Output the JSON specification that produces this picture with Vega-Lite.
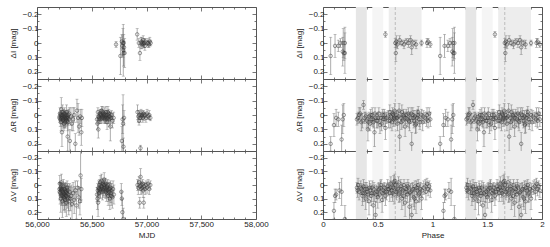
{
"$schema": "https://vega.github.io/schema/vega-lite/v6.json",
"padding": {"left": 8, "top": 6, "right": 2, "bottom": 2},
"config": {
 "font": "Liberation Sans",
 "view": {"stroke": "#555", "strokeWidth": 1},
 "axis": {"grid": false, "domain": false, "tickColor": "#555", "tickWidth": 0.8, "tickSize": -4, "labelFontSize": 8, "labelColor": "#222", "titleFontSize": 8, "titleFontWeight": "normal", "titleColor": "#222", "labelOverlap": false, "labelFlush": false, "labelPadding": 3},
 "axisBottom": {"labelPadding": 5}
},
"datasets": {
 "L": [
  {"b":"I","t":56722,"m":0.01,"e":0.02},{"b":"I","t":56762,"m":0.09,"e":0.13},{"b":"I","t":56775,"m":-0.01,"e":0.05},{"b":"I","t":56780,"m":0.02,"e":0.07},{"b":"I","t":56785,"m":0.0,"e":0.1},{"b":"I","t":56788,"m":0.05,"e":0.18},{"b":"I","t":56790,"m":0.07,"e":0.09},{"b":"I","t":56792,"m":0.0,"e":0.06},{"b":"I","t":56795,"m":0.03,"e":0.04},{"b":"I","t":56800,"m":0.07,"e":0.1},
  {"b":"I","t":56915,"m":-0.06,"e":0.04},{"b":"I","t":56930,"m":0.0,"e":0.03},{"b":"I","t":56940,"m":0.07,"e":0.05},{"b":"I","t":56950,"m":0.0,"e":0.04},{"b":"I","t":56955,"m":-0.01,"e":0.03},{"b":"I","t":56960,"m":0.01,"e":0.03},{"b":"I","t":56965,"m":0.0,"e":0.02},{"b":"I","t":56970,"m":-0.02,"e":0.03},{"b":"I","t":56975,"m":0.01,"e":0.02},{"b":"I","t":56980,"m":0.0,"e":0.03},{"b":"I","t":56985,"m":0.02,"e":0.03},{"b":"I","t":56990,"m":-0.01,"e":0.02},{"b":"I","t":57010,"m":0.0,"e":0.02},{"b":"I","t":57015,"m":0.0,"e":0.03},{"b":"I","t":57022,"m":0.01,"e":0.02},{"b":"I","t":57030,"m":-0.01,"e":0.03},{"b":"I","t":57038,"m":0.0,"e":0.02},
  {"b":"R","t":56205,"m":0.02,"e":0.03},{"b":"R","t":56210,"m":-0.01,"e":0.04},{"b":"R","t":56213,"m":0.03,"e":0.05},{"b":"R","t":56216,"m":0.0,"e":0.03},{"b":"R","t":56219,"m":0.05,"e":0.06},{"b":"R","t":56222,"m":-0.04,"e":0.08},{"b":"R","t":56225,"m":0.01,"e":0.03},{"b":"R","t":56228,"m":0.12,"e":0.1},{"b":"R","t":56231,"m":0.02,"e":0.04},{"b":"R","t":56234,"m":-0.02,"e":0.05},{"b":"R","t":56237,"m":0.04,"e":0.04},{"b":"R","t":56240,"m":0.0,"e":0.03},{"b":"R","t":56243,"m":0.03,"e":0.06},{"b":"R","t":56246,"m":0.06,"e":0.05},{"b":"R","t":56249,"m":0.01,"e":0.03},{"b":"R","t":56252,"m":-0.01,"e":0.04},{"b":"R","t":56255,"m":0.02,"e":0.05},{"b":"R","t":56258,"m":0.05,"e":0.04},{"b":"R","t":56261,"m":0.0,"e":0.03},{"b":"R","t":56264,"m":0.03,"e":0.05},{"b":"R","t":56267,"m":0.02,"e":0.04},{"b":"R","t":56270,"m":-0.02,"e":0.05},{"b":"R","t":56273,"m":0.04,"e":0.03},{"b":"R","t":56276,"m":0.01,"e":0.04},{"b":"R","t":56280,"m":0.15,"e":0.1},{"b":"R","t":56284,"m":0.02,"e":0.05},{"b":"R","t":56288,"m":0.0,"e":0.04},{"b":"R","t":56292,"m":0.03,"e":0.03},{"b":"R","t":56300,"m":0.18,"e":0.08},{"b":"R","t":56310,"m":0.01,"e":0.06},{"b":"R","t":56318,"m":0.06,"e":0.05},{"b":"R","t":56330,"m":0.03,"e":0.08},{"b":"R","t":56340,"m":0.0,"e":0.05},{"b":"R","t":56350,"m":0.2,"e":0.07},{"b":"R","t":56365,"m":-0.03,"e":0.08},{"b":"R","t":56375,"m":0.02,"e":0.1},{"b":"R","t":56385,"m":0.08,"e":0.06},{"b":"R","t":56395,"m":0.01,"e":0.05},{"b":"R","t":56405,"m":0.12,"e":0.09},{"b":"R","t":56410,"m":0.02,"e":0.06},
  {"b":"R","t":56207,"m":0.01,"e":0.03},{"b":"R","t":56218,"m":0.02,"e":0.04},{"b":"R","t":56227,"m":0.0,"e":0.03},{"b":"R","t":56236,"m":0.03,"e":0.04},{"b":"R","t":56245,"m":-0.01,"e":0.03},{"b":"R","t":56254,"m":0.04,"e":0.05},{"b":"R","t":56263,"m":0.01,"e":0.03},{"b":"R","t":56272,"m":0.02,"e":0.04},{"b":"R","t":56282,"m":0.05,"e":0.06},{"b":"R","t":56295,"m":-0.01,"e":0.04},
  {"b":"R","t":56548,"m":0.03,"e":0.03},{"b":"R","t":56552,"m":0.06,"e":0.04},{"b":"R","t":56556,"m":-0.02,"e":0.03},{"b":"R","t":56560,"m":0.1,"e":0.06},{"b":"R","t":56565,"m":0.01,"e":0.03},{"b":"R","t":56570,"m":0.02,"e":0.04},{"b":"R","t":56575,"m":-0.01,"e":0.03},{"b":"R","t":56580,"m":0.03,"e":0.03},{"b":"R","t":56585,"m":0.0,"e":0.04},{"b":"R","t":56590,"m":-0.03,"e":0.03},{"b":"R","t":56595,"m":0.01,"e":0.03},{"b":"R","t":56600,"m":-0.02,"e":0.04},{"b":"R","t":56605,"m":0.02,"e":0.03},{"b":"R","t":56610,"m":0.0,"e":0.03},{"b":"R","t":56615,"m":-0.01,"e":0.04},{"b":"R","t":56620,"m":0.03,"e":0.03},{"b":"R","t":56625,"m":0.01,"e":0.03},{"b":"R","t":56630,"m":-0.02,"e":0.04},{"b":"R","t":56635,"m":0.02,"e":0.03},{"b":"R","t":56640,"m":0.05,"e":0.05},{"b":"R","t":56645,"m":0.0,"e":0.03},{"b":"R","t":56650,"m":0.02,"e":0.04},{"b":"R","t":56655,"m":-0.01,"e":0.03},{"b":"R","t":56660,"m":0.03,"e":0.05},{"b":"R","t":56665,"m":0.01,"e":0.03},{"b":"R","t":56670,"m":0.08,"e":0.1},{"b":"R","t":56675,"m":0.02,"e":0.04},{"b":"R","t":56680,"m":0.0,"e":0.03},{"b":"R","t":56690,"m":0.04,"e":0.05},{"b":"R","t":56700,"m":0.02,"e":0.04},{"b":"R","t":56775,"m":0.18,"e":0.1},{"b":"R","t":56782,"m":0.03,"e":0.1},{"b":"R","t":56786,"m":0.06,"e":0.2},{"b":"R","t":56790,"m":0.22,"e":0.06},{"b":"R","t":56795,"m":0.02,"e":0.05},
  {"b":"R","t":56567,"m":0.03,"e":0.03},{"b":"R","t":56577,"m":0.0,"e":0.03},{"b":"R","t":56588,"m":0.02,"e":0.04},{"b":"R","t":56597,"m":-0.01,"e":0.03},{"b":"R","t":56608,"m":0.01,"e":0.03},{"b":"R","t":56618,"m":0.02,"e":0.04},{"b":"R","t":56628,"m":0.0,"e":0.03},{"b":"R","t":56638,"m":0.03,"e":0.03},{"b":"R","t":56648,"m":-0.02,"e":0.04},{"b":"R","t":56658,"m":0.01,"e":0.03},
  {"b":"R","t":56918,"m":-0.02,"e":0.05},{"b":"R","t":56925,"m":0.01,"e":0.04},{"b":"R","t":56932,"m":0.04,"e":0.03},{"b":"R","t":56938,"m":0.0,"e":0.03},{"b":"R","t":56942,"m":0.02,"e":0.03},{"b":"R","t":56945,"m":0.23,"e":0.02},{"b":"R","t":56950,"m":-0.01,"e":0.03},{"b":"R","t":56955,"m":0.01,"e":0.02},{"b":"R","t":56960,"m":0.0,"e":0.03},{"b":"R","t":56966,"m":0.02,"e":0.03},{"b":"R","t":56972,"m":-0.01,"e":0.02},{"b":"R","t":56978,"m":0.01,"e":0.03},{"b":"R","t":56985,"m":0.0,"e":0.02},{"b":"R","t":56995,"m":0.02,"e":0.03},{"b":"R","t":57005,"m":-0.01,"e":0.03},{"b":"R","t":57015,"m":0.01,"e":0.02},{"b":"R","t":57025,"m":0.0,"e":0.03},{"b":"R","t":57035,"m":0.02,"e":0.02},
  {"b":"V","t":56205,"m":0.03,"e":0.05},{"b":"V","t":56208,"m":-0.01,"e":0.06},{"b":"V","t":56211,"m":0.06,"e":0.08},{"b":"V","t":56214,"m":0.02,"e":0.04},{"b":"V","t":56217,"m":0.1,"e":0.1},{"b":"V","t":56220,"m":0.04,"e":0.05},{"b":"V","t":56223,"m":-0.02,"e":0.06},{"b":"V","t":56226,"m":0.07,"e":0.07},{"b":"V","t":56229,"m":0.03,"e":0.05},{"b":"V","t":56232,"m":0.12,"e":0.12},{"b":"V","t":56235,"m":0.05,"e":0.05},{"b":"V","t":56238,"m":0.08,"e":0.07},{"b":"V","t":56241,"m":0.01,"e":0.05},{"b":"V","t":56244,"m":0.06,"e":0.06},{"b":"V","t":56247,"m":0.09,"e":0.1},{"b":"V","t":56250,"m":0.03,"e":0.04},{"b":"V","t":56253,"m":0.07,"e":0.08},{"b":"V","t":56256,"m":0.11,"e":0.09},{"b":"V","t":56259,"m":0.04,"e":0.06},{"b":"V","t":56262,"m":0.08,"e":0.07},{"b":"V","t":56265,"m":0.05,"e":0.05},{"b":"V","t":56268,"m":0.13,"e":0.1},{"b":"V","t":56271,"m":0.06,"e":0.06},{"b":"V","t":56275,"m":0.02,"e":0.05},{"b":"V","t":56280,"m":0.09,"e":0.08},{"b":"V","t":56285,"m":0.07,"e":0.07},{"b":"V","t":56290,"m":0.12,"e":0.1},{"b":"V","t":56298,"m":0.05,"e":0.06},{"b":"V","t":56305,"m":0.1,"e":0.09},{"b":"V","t":56312,"m":0.08,"e":0.08},{"b":"V","t":56320,"m":0.14,"e":0.12},{"b":"V","t":56330,"m":0.06,"e":0.08},{"b":"V","t":56340,"m":0.11,"e":0.1},{"b":"V","t":56350,"m":0.04,"e":0.07},{"b":"V","t":56360,"m":0.15,"e":0.1},{"b":"V","t":56370,"m":0.02,"e":0.05},{"b":"V","t":56380,"m":0.09,"e":0.08},{"b":"V","t":56392,"m":0.12,"e":0.1},{"b":"V","t":56398,"m":-0.07,"e":0.2},{"b":"V","t":56405,"m":0.03,"e":0.08},
  {"b":"V","t":56207,"m":0.05,"e":0.06},{"b":"V","t":56216,"m":0.03,"e":0.05},{"b":"V","t":56224,"m":0.08,"e":0.07},{"b":"V","t":56233,"m":0.04,"e":0.05},{"b":"V","t":56242,"m":0.07,"e":0.06},{"b":"V","t":56251,"m":0.1,"e":0.08},{"b":"V","t":56260,"m":0.05,"e":0.06},{"b":"V","t":56269,"m":0.08,"e":0.07},{"b":"V","t":56278,"m":0.04,"e":0.05},{"b":"V","t":56288,"m":0.1,"e":0.09},
  {"b":"V","t":56548,"m":0.07,"e":0.05},{"b":"V","t":56552,"m":0.1,"e":0.08},{"b":"V","t":56555,"m":0.04,"e":0.05},{"b":"V","t":56558,"m":0.13,"e":0.1},{"b":"V","t":56562,"m":0.02,"e":0.05},{"b":"V","t":56566,"m":0.06,"e":0.06},{"b":"V","t":56570,"m":0.0,"e":0.04},{"b":"V","t":56574,"m":0.04,"e":0.05},{"b":"V","t":56578,"m":-0.02,"e":0.05},{"b":"V","t":56582,"m":0.03,"e":0.04},{"b":"V","t":56586,"m":0.01,"e":0.04},{"b":"V","t":56590,"m":-0.03,"e":0.05},{"b":"V","t":56594,"m":0.02,"e":0.04},{"b":"V","t":56598,"m":0.05,"e":0.06},{"b":"V","t":56602,"m":-0.01,"e":0.04},{"b":"V","t":56606,"m":0.03,"e":0.05},{"b":"V","t":56610,"m":0.0,"e":0.04},{"b":"V","t":56614,"m":-0.04,"e":0.05},{"b":"V","t":56618,"m":0.02,"e":0.04},{"b":"V","t":56622,"m":0.04,"e":0.05},{"b":"V","t":56626,"m":-0.01,"e":0.04},{"b":"V","t":56630,"m":0.03,"e":0.05},{"b":"V","t":56634,"m":0.06,"e":0.06},{"b":"V","t":56638,"m":0.01,"e":0.04},{"b":"V","t":56642,"m":0.04,"e":0.05},{"b":"V","t":56646,"m":0.0,"e":0.04},{"b":"V","t":56650,"m":0.08,"e":0.07},{"b":"V","t":56655,"m":0.03,"e":0.05},{"b":"V","t":56660,"m":0.05,"e":0.06},{"b":"V","t":56665,"m":0.1,"e":0.08},{"b":"V","t":56670,"m":0.02,"e":0.05},{"b":"V","t":56675,"m":0.06,"e":0.07},{"b":"V","t":56680,"m":0.04,"e":0.05},{"b":"V","t":56688,"m":0.09,"e":0.08},{"b":"V","t":56695,"m":0.03,"e":0.06},{"b":"V","t":56702,"m":0.07,"e":0.07},{"b":"V","t":56770,"m":0.05,"e":0.06},{"b":"V","t":56775,"m":0.1,"e":0.05},{"b":"V","t":56780,"m":0.2,"e":0.1},{"b":"V","t":56788,"m":0.25,"e":0.08},
  {"b":"V","t":56568,"m":0.03,"e":0.05},{"b":"V","t":56580,"m":0.05,"e":0.05},{"b":"V","t":56592,"m":0.01,"e":0.04},{"b":"V","t":56604,"m":0.04,"e":0.05},{"b":"V","t":56616,"m":0.0,"e":0.04},{"b":"V","t":56628,"m":0.05,"e":0.05},{"b":"V","t":56640,"m":0.02,"e":0.04},{"b":"V","t":56652,"m":0.06,"e":0.06},{"b":"V","t":56664,"m":0.03,"e":0.05},{"b":"V","t":56678,"m":0.08,"e":0.07},
  {"b":"V","t":56918,"m":0.0,"e":0.04},{"b":"V","t":56925,"m":0.02,"e":0.05},{"b":"V","t":56932,"m":-0.02,"e":0.04},{"b":"V","t":56938,"m":0.13,"e":0.04},{"b":"V","t":56942,"m":0.01,"e":0.03},{"b":"V","t":56946,"m":-0.06,"e":0.06},{"b":"V","t":56950,"m":0.03,"e":0.04},{"b":"V","t":56955,"m":0.0,"e":0.03},{"b":"V","t":56960,"m":0.02,"e":0.04},{"b":"V","t":56965,"m":-0.01,"e":0.03},{"b":"V","t":56970,"m":0.04,"e":0.05},{"b":"V","t":56975,"m":0.13,"e":0.04},{"b":"V","t":56980,"m":0.01,"e":0.03},{"b":"V","t":56988,"m":0.03,"e":0.04},{"b":"V","t":56996,"m":0.0,"e":0.03},{"b":"V","t":57005,"m":0.02,"e":0.04},{"b":"V","t":57015,"m":-0.01,"e":0.03},{"b":"V","t":57025,"m":0.03,"e":0.04},{"b":"V","t":57035,"m":0.0,"e":0.03}
 ],
 "P": [
  {"b":"I","p":0.07,"q":1.07,"m":0.09,"e":0.13},{"b":"I","p":0.11,"q":1.11,"m":0.02,"e":0.08},{"b":"I","p":0.14,"q":1.14,"m":0.02,"e":0.04},{"b":"I","p":0.16,"q":1.16,"m":0.0,"e":0.03},{"b":"I","p":0.18,"q":1.18,"m":0.06,"e":0.1},{"b":"I","p":0.185,"q":1.185,"m":0.0,"e":0.1},{"b":"I","p":0.19,"q":1.19,"m":0.07,"e":0.05},{"b":"I","p":0.2,"q":1.2,"m":0.07,"e":0.14},{"b":"I","p":0.2,"q":1.2,"m":0.0,"e":0.11},{"b":"I","p":0.57,"q":1.57,"m":-0.06,"e":0.02},{"b":"I","p":0.66,"q":1.66,"m":0.0,"e":0.03},{"b":"I","p":0.665,"q":1.665,"m":0.07,"e":0.06},{"b":"I","p":0.67,"q":1.67,"m":-0.01,"e":0.04},{"b":"I","p":0.68,"q":1.68,"m":0.01,"e":0.03},{"b":"I","p":0.7,"q":1.7,"m":-0.02,"e":0.03},{"b":"I","p":0.72,"q":1.72,"m":0.0,"e":0.02},{"b":"I","p":0.74,"q":1.74,"m":0.01,"e":0.03},{"b":"I","p":0.76,"q":1.76,"m":-0.01,"e":0.02},{"b":"I","p":0.78,"q":1.78,"m":0.0,"e":0.03},{"b":"I","p":0.8,"q":1.8,"m":-0.02,"e":0.03},{"b":"I","p":0.81,"q":1.81,"m":0.03,"e":0.05},{"b":"I","p":0.83,"q":1.83,"m":0.0,"e":0.02},{"b":"I","p":0.85,"q":1.85,"m":0.01,"e":0.03},{"b":"I","p":0.9,"q":1.9,"m":0.0,"e":0.02},{"b":"I","p":0.95,"q":1.95,"m":0.0,"e":0.03},{"b":"I","p":0.96,"q":1.96,"m":-0.01,"e":0.02},{"b":"I","p":0.98,"q":1.98,"m":0.01,"e":0.02},
  {"b":"R","p":0.07,"q":1.07,"m":0.2,"e":0.05},{"b":"R","p":0.1,"q":1.1,"m":0.07,"e":0.08},{"b":"R","p":0.12,"q":1.12,"m":0.02,"e":0.06},{"b":"R","p":0.14,"q":1.14,"m":0.03,"e":0.05},{"b":"R","p":0.17,"q":1.17,"m":0.17,"e":0.1},{"b":"R","p":0.18,"q":1.18,"m":0.03,"e":0.1},{"b":"R","p":0.19,"q":1.19,"m":0.0,"e":0.08},
  {"b":"R","p":0.31,"q":1.31,"m":0.03,"e":0.04},{"b":"R","p":0.33,"q":1.33,"m":0.0,"e":0.05},{"b":"R","p":0.35,"q":1.35,"m":0.05,"e":0.06},{"b":"R","p":0.37,"q":1.37,"m":-0.07,"e":0.03},{"b":"R","p":0.38,"q":1.38,"m":0.02,"e":0.04},{"b":"R","p":0.4,"q":1.4,"m":0.04,"e":0.05},{"b":"R","p":0.41,"q":1.41,"m":0.1,"e":0.08},{"b":"R","p":0.42,"q":1.42,"m":0.01,"e":0.03},{"b":"R","p":0.43,"q":1.43,"m":0.06,"e":0.05},{"b":"R","p":0.44,"q":1.44,"m":0.03,"e":0.04},{"b":"R","p":0.45,"q":1.45,"m":0.0,"e":0.05},{"b":"R","p":0.46,"q":1.46,"m":0.05,"e":0.04},{"b":"R","p":0.47,"q":1.47,"m":0.12,"e":0.1},{"b":"R","p":0.48,"q":1.48,"m":0.02,"e":0.03},{"b":"R","p":0.5,"q":1.5,"m":0.04,"e":0.05},{"b":"R","p":0.51,"q":1.51,"m":-0.01,"e":0.04},{"b":"R","p":0.52,"q":1.52,"m":0.07,"e":0.06},{"b":"R","p":0.53,"q":1.53,"m":0.02,"e":0.04},{"b":"R","p":0.55,"q":1.55,"m":0.03,"e":0.05},{"b":"R","p":0.56,"q":1.56,"m":0.0,"e":0.04},{"b":"R","p":0.57,"q":1.57,"m":0.09,"e":0.08},{"b":"R","p":0.58,"q":1.58,"m":0.02,"e":0.04},{"b":"R","p":0.6,"q":1.6,"m":0.04,"e":0.05},{"b":"R","p":0.61,"q":1.61,"m":-0.02,"e":0.05},{"b":"R","p":0.62,"q":1.62,"m":0.01,"e":0.04},{"b":"R","p":0.63,"q":1.63,"m":0.05,"e":0.06},{"b":"R","p":0.64,"q":1.64,"m":0.0,"e":0.03},{"b":"R","p":0.65,"q":1.65,"m":0.02,"e":0.04},{"b":"R","p":0.655,"q":1.655,"m":-0.03,"e":0.05},{"b":"R","p":0.66,"q":1.66,"m":0.03,"e":0.04},{"b":"R","p":0.67,"q":1.67,"m":0.0,"e":0.03},{"b":"R","p":0.68,"q":1.68,"m":0.06,"e":0.05},{"b":"R","p":0.69,"q":1.69,"m":0.01,"e":0.04},{"b":"R","p":0.7,"q":1.7,"m":0.15,"e":0.1},{"b":"R","p":0.71,"q":1.71,"m":0.02,"e":0.04},{"b":"R","p":0.72,"q":1.72,"m":-0.02,"e":0.05},{"b":"R","p":0.73,"q":1.73,"m":0.04,"e":0.05},{"b":"R","p":0.74,"q":1.74,"m":0.01,"e":0.03},{"b":"R","p":0.75,"q":1.75,"m":0.08,"e":0.07},{"b":"R","p":0.76,"q":1.76,"m":0.0,"e":0.04},{"b":"R","p":0.77,"q":1.77,"m":0.03,"e":0.05},{"b":"R","p":0.78,"q":1.78,"m":-0.01,"e":0.04},{"b":"R","p":0.79,"q":1.79,"m":0.05,"e":0.06},{"b":"R","p":0.8,"q":1.8,"m":0.02,"e":0.04},{"b":"R","p":0.81,"q":1.81,"m":0.2,"e":0.08},{"b":"R","p":0.82,"q":1.82,"m":0.0,"e":0.05},{"b":"R","p":0.83,"q":1.83,"m":0.04,"e":0.05},{"b":"R","p":0.84,"q":1.84,"m":0.01,"e":0.04},{"b":"R","p":0.85,"q":1.85,"m":0.06,"e":0.06},{"b":"R","p":0.86,"q":1.86,"m":0.02,"e":0.05},{"b":"R","p":0.87,"q":1.87,"m":-0.02,"e":0.04},{"b":"R","p":0.88,"q":1.88,"m":0.03,"e":0.05},{"b":"R","p":0.9,"q":1.9,"m":0.0,"e":0.04},{"b":"R","p":0.91,"q":1.91,"m":0.05,"e":0.06},{"b":"R","p":0.93,"q":1.93,"m":0.02,"e":0.04},{"b":"R","p":0.95,"q":1.95,"m":0.0,"e":0.05},{"b":"R","p":0.96,"q":1.96,"m":0.04,"e":0.05},{"b":"R","p":0.97,"q":1.97,"m":-0.01,"e":0.04},{"b":"R","p":0.98,"q":1.98,"m":0.03,"e":0.05},
  {"b":"R","p":0.32,"q":1.32,"m":0.02,"e":0.04},{"b":"R","p":0.34,"q":1.34,"m":-0.01,"e":0.04},{"b":"R","p":0.36,"q":1.36,"m":0.04,"e":0.05},{"b":"R","p":0.39,"q":1.39,"m":0.01,"e":0.03},{"b":"R","p":0.415,"q":1.415,"m":0.05,"e":0.05},{"b":"R","p":0.435,"q":1.435,"m":0.0,"e":0.04},{"b":"R","p":0.455,"q":1.455,"m":0.03,"e":0.05},{"b":"R","p":0.475,"q":1.475,"m":-0.01,"e":0.04},{"b":"R","p":0.49,"q":1.49,"m":0.04,"e":0.05},{"b":"R","p":0.505,"q":1.505,"m":0.02,"e":0.04},{"b":"R","p":0.535,"q":1.535,"m":0.06,"e":0.05},{"b":"R","p":0.545,"q":1.545,"m":0.0,"e":0.04},{"b":"R","p":0.565,"q":1.565,"m":0.03,"e":0.05},{"b":"R","p":0.595,"q":1.595,"m":0.01,"e":0.04},{"b":"R","p":0.615,"q":1.615,"m":0.04,"e":0.05},{"b":"R","p":0.635,"q":1.635,"m":-0.01,"e":0.04},{"b":"R","p":0.645,"q":1.645,"m":0.03,"e":0.05},{"b":"R","p":0.675,"q":1.675,"m":0.02,"e":0.04},{"b":"R","p":0.695,"q":1.695,"m":-0.03,"e":0.05},{"b":"R","p":0.715,"q":1.715,"m":0.05,"e":0.05},{"b":"R","p":0.735,"q":1.735,"m":0.0,"e":0.04},{"b":"R","p":0.755,"q":1.755,"m":0.02,"e":0.04},{"b":"R","p":0.785,"q":1.785,"m":0.04,"e":0.05},{"b":"R","p":0.805,"q":1.805,"m":-0.01,"e":0.04},{"b":"R","p":0.825,"q":1.825,"m":0.02,"e":0.05},{"b":"R","p":0.845,"q":1.845,"m":0.07,"e":0.06},{"b":"R","p":0.865,"q":1.865,"m":0.0,"e":0.04},{"b":"R","p":0.885,"q":1.885,"m":0.05,"e":0.05},{"b":"R","p":0.915,"q":1.915,"m":0.01,"e":0.04},{"b":"R","p":0.945,"q":1.945,"m":0.03,"e":0.05},
  {"b":"V","p":0.1,"q":1.1,"m":0.19,"e":0.06},{"b":"V","p":0.11,"q":1.11,"m":0.08,"e":0.05},{"b":"V","p":0.12,"q":1.12,"m":0.07,"e":0.04},{"b":"V","p":0.15,"q":1.15,"m":0.04,"e":0.06},{"b":"V","p":0.17,"q":1.17,"m":0.05,"e":0.1},{"b":"V","p":0.2,"q":1.2,"m":0.25,"e":0.1},
  {"b":"V","p":0.31,"q":1.31,"m":0.02,"e":0.04},{"b":"V","p":0.32,"q":1.32,"m":0.0,"e":0.05},{"b":"V","p":0.33,"q":1.33,"m":0.05,"e":0.06},{"b":"V","p":0.35,"q":1.35,"m":0.03,"e":0.04},{"b":"V","p":0.36,"q":1.36,"m":0.08,"e":0.07},{"b":"V","p":0.37,"q":1.37,"m":0.01,"e":0.05},{"b":"V","p":0.38,"q":1.38,"m":0.06,"e":0.06},{"b":"V","p":0.39,"q":1.39,"m":0.1,"e":0.08},{"b":"V","p":0.4,"q":1.4,"m":0.03,"e":0.05},{"b":"V","p":0.41,"q":1.41,"m":0.07,"e":0.06},{"b":"V","p":0.42,"q":1.42,"m":0.12,"e":0.1},{"b":"V","p":0.43,"q":1.43,"m":0.04,"e":0.05},{"b":"V","p":0.44,"q":1.44,"m":0.08,"e":0.07},{"b":"V","p":0.45,"q":1.45,"m":0.02,"e":0.05},{"b":"V","p":0.46,"q":1.46,"m":0.15,"e":0.1},{"b":"V","p":0.47,"q":1.47,"m":0.06,"e":0.06},{"b":"V","p":0.48,"q":1.48,"m":0.22,"e":0.1},{"b":"V","p":0.49,"q":1.49,"m":0.05,"e":0.05},{"b":"V","p":0.5,"q":1.5,"m":0.09,"e":0.08},{"b":"V","p":0.51,"q":1.51,"m":0.03,"e":0.05},{"b":"V","p":0.52,"q":1.52,"m":0.07,"e":0.06},{"b":"V","p":0.53,"q":1.53,"m":0.0,"e":0.04},{"b":"V","p":0.54,"q":1.54,"m":0.11,"e":0.09},{"b":"V","p":0.55,"q":1.55,"m":0.04,"e":0.05},{"b":"V","p":0.56,"q":1.56,"m":0.02,"e":0.04},{"b":"V","p":0.57,"q":1.57,"m":0.08,"e":0.07},{"b":"V","p":0.58,"q":1.58,"m":0.05,"e":0.06},{"b":"V","p":0.59,"q":1.59,"m":0.01,"e":0.05},{"b":"V","p":0.6,"q":1.6,"m":0.03,"e":0.04},{"b":"V","p":0.61,"q":1.61,"m":0.06,"e":0.06},{"b":"V","p":0.62,"q":1.62,"m":-0.01,"e":0.05},{"b":"V","p":0.63,"q":1.63,"m":0.04,"e":0.05},{"b":"V","p":0.64,"q":1.64,"m":0.02,"e":0.04},{"b":"V","p":0.65,"q":1.65,"m":0.07,"e":0.07},{"b":"V","p":0.655,"q":1.655,"m":-0.03,"e":0.05},{"b":"V","p":0.66,"q":1.66,"m":0.0,"e":0.04},{"b":"V","p":0.67,"q":1.67,"m":0.05,"e":0.06},{"b":"V","p":0.68,"q":1.68,"m":0.03,"e":0.05},{"b":"V","p":0.69,"q":1.69,"m":-0.02,"e":0.04},{"b":"V","p":0.7,"q":1.7,"m":0.06,"e":0.06},{"b":"V","p":0.71,"q":1.71,"m":0.01,"e":0.05},{"b":"V","p":0.72,"q":1.72,"m":0.1,"e":0.08},{"b":"V","p":0.73,"q":1.73,"m":0.04,"e":0.05},{"b":"V","p":0.74,"q":1.74,"m":0.0,"e":0.04},{"b":"V","p":0.75,"q":1.75,"m":0.13,"e":0.1},{"b":"V","p":0.76,"q":1.76,"m":0.03,"e":0.05},{"b":"V","p":0.77,"q":1.77,"m":0.07,"e":0.06},{"b":"V","p":0.78,"q":1.78,"m":0.02,"e":0.04},{"b":"V","p":0.79,"q":1.79,"m":0.16,"e":0.1},{"b":"V","p":0.8,"q":1.8,"m":0.05,"e":0.06},{"b":"V","p":0.81,"q":1.81,"m":0.22,"e":0.08},{"b":"V","p":0.82,"q":1.82,"m":0.03,"e":0.05},{"b":"V","p":0.83,"q":1.83,"m":0.09,"e":0.07},{"b":"V","p":0.84,"q":1.84,"m":0.01,"e":0.04},{"b":"V","p":0.85,"q":1.85,"m":0.12,"e":0.09},{"b":"V","p":0.86,"q":1.86,"m":0.04,"e":0.05},{"b":"V","p":0.87,"q":1.87,"m":0.0,"e":0.04},{"b":"V","p":0.88,"q":1.88,"m":0.06,"e":0.06},{"b":"V","p":0.89,"q":1.89,"m":0.03,"e":0.05},{"b":"V","p":0.9,"q":1.9,"m":0.1,"e":0.08},{"b":"V","p":0.92,"q":1.92,"m":0.02,"e":0.05},{"b":"V","p":0.94,"q":1.94,"m":0.05,"e":0.06},{"b":"V","p":0.95,"q":1.95,"m":-0.01,"e":0.04},{"b":"V","p":0.96,"q":1.96,"m":0.03,"e":0.05},{"b":"V","p":0.97,"q":1.97,"m":0.01,"e":0.04},{"b":"V","p":0.98,"q":1.98,"m":0.04,"e":0.05},
  {"b":"V","p":0.315,"q":1.315,"m":0.04,"e":0.05},{"b":"V","p":0.345,"q":1.345,"m":0.02,"e":0.05},{"b":"V","p":0.365,"q":1.365,"m":0.06,"e":0.06},{"b":"V","p":0.385,"q":1.385,"m":0.03,"e":0.05},{"b":"V","p":0.405,"q":1.405,"m":0.05,"e":0.05},{"b":"V","p":0.425,"q":1.425,"m":0.02,"e":0.05},{"b":"V","p":0.445,"q":1.445,"m":0.06,"e":0.06},{"b":"V","p":0.465,"q":1.465,"m":0.03,"e":0.05},{"b":"V","p":0.485,"q":1.485,"m":0.07,"e":0.06},{"b":"V","p":0.505,"q":1.505,"m":0.04,"e":0.05},{"b":"V","p":0.525,"q":1.525,"m":0.02,"e":0.05},{"b":"V","p":0.545,"q":1.545,"m":0.06,"e":0.06},{"b":"V","p":0.565,"q":1.565,"m":0.05,"e":0.05},{"b":"V","p":0.595,"q":1.595,"m":0.03,"e":0.05},{"b":"V","p":0.615,"q":1.615,"m":0.02,"e":0.05},{"b":"V","p":0.635,"q":1.635,"m":0.06,"e":0.06},{"b":"V","p":0.645,"q":1.645,"m":-0.02,"e":0.05},{"b":"V","p":0.675,"q":1.675,"m":0.04,"e":0.05},{"b":"V","p":0.695,"q":1.695,"m":0.07,"e":0.06},{"b":"V","p":0.715,"q":1.715,"m":0.03,"e":0.05},{"b":"V","p":0.735,"q":1.735,"m":0.08,"e":0.07},{"b":"V","p":0.755,"q":1.755,"m":0.05,"e":0.05},{"b":"V","p":0.775,"q":1.775,"m":0.01,"e":0.05},{"b":"V","p":0.795,"q":1.795,"m":0.06,"e":0.06},{"b":"V","p":0.815,"q":1.815,"m":0.04,"e":0.05},{"b":"V","p":0.835,"q":1.835,"m":0.1,"e":0.08},{"b":"V","p":0.855,"q":1.855,"m":0.02,"e":0.05},{"b":"V","p":0.875,"q":1.875,"m":0.07,"e":0.06},{"b":"V","p":0.905,"q":1.905,"m":0.04,"e":0.05},{"b":"V","p":0.935,"q":1.935,"m":0.01,"e":0.05}
 ],
 "B": [{"a":0.3,"z":0.4,"k":"a"},{"a":0.45,"z":0.55,"k":"b"},{"a":0.6,"z":0.9,"k":"c"},{"a":1.3,"z":1.4,"k":"a"},{"a":1.45,"z":1.55,"k":"b"},{"a":1.6,"z":1.9,"k":"c"}],
 "D": [{"v":0.66},{"v":1.66}]
},
"spacing": 25,
"hconcat": [
 {"spacing": 0, "bounds": "flush", "vconcat": [
  {"width": 219, "height": 72, "data": {"name": "L"}, "transform": [{"filter": "datum.b === 'I'"}],
   "layer": [
    {"mark": {"type": "errorbar", "color": "#777", "thickness": 0.6, "ticks": {"size": 3, "clip": true}, "rule": {"clip": true}},
     "encoding": {"x": {"field": "t", "type": "quantitative", "scale": {"domain": [56000, 58000], "nice": false, "zero": false}, "axis": {"orient": "bottom", "labels": false, "title": null, "maxExtent": 0, "values": [56000,56100,56200,56300,56400,56500,56600,56700,56800,56900,57000,57100,57200,57300,57400,57500,57600,57700,57800,57900,58000], "tickDash": {"condition": {"test": "datum.value % 500 === 0", "value": []}, "value": [2, 10]}}},
      "y": {"field": "m", "type": "quantitative", "scale": {"domain": [-0.25, 0.25], "reverse": true, "nice": false, "zero": false}, "axis": {"orient": "left", "title": "ΔI [mag]", "titlePadding": 5, "values": [-0.2,-0.15,-0.1,-0.05,0,0.05,0.1,0.15,0.2], "labelExpr": "abs(round(datum.value*20)) % 2 === 0 ? format(datum.value, '~g') : ''", "tickDash": {"condition": {"test": "abs(round(datum.value*20)) % 2 === 0", "value": []}, "value": [2, 10]}}},
      "yError": {"field": "e"}}},
    {"mark": {"type": "point", "filled": false, "size": 12, "color": "#333", "strokeWidth": 0.7, "clip": true},
     "encoding": {"x": {"field": "t", "type": "quantitative", "scale": {"domain": [56000, 58000], "nice": false, "zero": false}, "axis": {"orient": "top", "labels": false, "title": null, "maxExtent": 0, "values": [56000,56100,56200,56300,56400,56500,56600,56700,56800,56900,57000,57100,57200,57300,57400,57500,57600,57700,57800,57900,58000], "tickDash": {"condition": {"test": "datum.value % 500 === 0", "value": []}, "value": [2, 10]}}},
      "y": {"field": "m", "type": "quantitative", "scale": {"domain": [-0.25, 0.25], "reverse": true, "nice": false, "zero": false}, "axis": {"orient": "right", "labels": false, "title": null, "maxExtent": 0, "minExtent": 0, "values": [-0.2,-0.15,-0.1,-0.05,0,0.05,0.1,0.15,0.2], "tickDash": {"condition": {"test": "abs(round(datum.value*20)) % 2 === 0", "value": []}, "value": [2, 10]}}}}}
   ],
   "resolve": {"axis": {"x": "independent", "y": "independent"}}},
  {"width": 219, "height": 72, "data": {"name": "L"}, "transform": [{"filter": "datum.b === 'R'"}],
   "layer": [
    {"mark": {"type": "errorbar", "color": "#777", "thickness": 0.6, "ticks": {"size": 3, "clip": true}, "rule": {"clip": true}},
     "encoding": {"x": {"field": "t", "type": "quantitative", "scale": {"domain": [56000, 58000], "nice": false, "zero": false}, "axis": {"orient": "bottom", "labels": false, "title": null, "maxExtent": 0, "values": [56000,56100,56200,56300,56400,56500,56600,56700,56800,56900,57000,57100,57200,57300,57400,57500,57600,57700,57800,57900,58000], "tickDash": {"condition": {"test": "datum.value % 500 === 0", "value": []}, "value": [2, 10]}}},
      "y": {"field": "m", "type": "quantitative", "scale": {"domain": [-0.25, 0.25], "reverse": true, "nice": false, "zero": false}, "axis": {"orient": "left", "title": "ΔR [mag]", "titlePadding": 5, "values": [-0.2,-0.15,-0.1,-0.05,0,0.05,0.1,0.15,0.2], "labelExpr": "abs(round(datum.value*20)) % 2 === 0 ? format(datum.value, '~g') : ''", "tickDash": {"condition": {"test": "abs(round(datum.value*20)) % 2 === 0", "value": []}, "value": [2, 10]}}},
      "yError": {"field": "e"}}},
    {"mark": {"type": "point", "filled": false, "size": 12, "color": "#333", "strokeWidth": 0.7, "clip": true},
     "encoding": {"x": {"field": "t", "type": "quantitative", "scale": {"domain": [56000, 58000], "nice": false, "zero": false}, "axis": {"orient": "top", "labels": false, "title": null, "maxExtent": 0, "values": [56000,56100,56200,56300,56400,56500,56600,56700,56800,56900,57000,57100,57200,57300,57400,57500,57600,57700,57800,57900,58000], "tickDash": {"condition": {"test": "datum.value % 500 === 0", "value": []}, "value": [2, 10]}}},
      "y": {"field": "m", "type": "quantitative", "scale": {"domain": [-0.25, 0.25], "reverse": true, "nice": false, "zero": false}, "axis": {"orient": "right", "labels": false, "title": null, "maxExtent": 0, "minExtent": 0, "values": [-0.2,-0.15,-0.1,-0.05,0,0.05,0.1,0.15,0.2], "tickDash": {"condition": {"test": "abs(round(datum.value*20)) % 2 === 0", "value": []}, "value": [2, 10]}}}}}
   ],
   "resolve": {"axis": {"x": "independent", "y": "independent"}}},
  {"width": 219, "height": 68, "data": {"name": "L"}, "transform": [{"filter": "datum.b === 'V'"}],
   "layer": [
    {"mark": {"type": "errorbar", "color": "#777", "thickness": 0.6, "ticks": {"size": 3, "clip": true}, "rule": {"clip": true}},
     "encoding": {"x": {"field": "t", "type": "quantitative", "scale": {"domain": [56000, 58000], "nice": false, "zero": false}, "axis": {"orient": "bottom", "title": "MJD", "titlePadding": 3, "values": [56000,56100,56200,56300,56400,56500,56600,56700,56800,56900,57000,57100,57200,57300,57400,57500,57600,57700,57800,57900,58000], "labelExpr": "datum.value % 500 === 0 ? format(datum.value, ',') : ''", "tickDash": {"condition": {"test": "datum.value % 500 === 0", "value": []}, "value": [2, 10]}}},
      "y": {"field": "m", "type": "quantitative", "scale": {"domain": [-0.25, 0.25], "reverse": true, "nice": false, "zero": false}, "axis": {"orient": "left", "title": "ΔV [mag]", "titlePadding": 5, "values": [-0.2,-0.15,-0.1,-0.05,0,0.05,0.1,0.15,0.2], "labelExpr": "abs(round(datum.value*20)) % 2 === 0 ? format(datum.value, '~g') : ''", "tickDash": {"condition": {"test": "abs(round(datum.value*20)) % 2 === 0", "value": []}, "value": [2, 10]}}},
      "yError": {"field": "e"}}},
    {"mark": {"type": "point", "filled": false, "size": 12, "color": "#333", "strokeWidth": 0.7, "clip": true},
     "encoding": {"x": {"field": "t", "type": "quantitative", "scale": {"domain": [56000, 58000], "nice": false, "zero": false}, "axis": {"orient": "top", "labels": false, "title": null, "maxExtent": 0, "values": [56000,56100,56200,56300,56400,56500,56600,56700,56800,56900,57000,57100,57200,57300,57400,57500,57600,57700,57800,57900,58000], "tickDash": {"condition": {"test": "datum.value % 500 === 0", "value": []}, "value": [2, 10]}}},
      "y": {"field": "m", "type": "quantitative", "scale": {"domain": [-0.25, 0.25], "reverse": true, "nice": false, "zero": false}, "axis": {"orient": "right", "labels": false, "title": null, "maxExtent": 0, "minExtent": 0, "values": [-0.2,-0.15,-0.1,-0.05,0,0.05,0.1,0.15,0.2], "tickDash": {"condition": {"test": "abs(round(datum.value*20)) % 2 === 0", "value": []}, "value": [2, 10]}}}}}
   ],
   "resolve": {"axis": {"x": "independent", "y": "independent"}}}
 ]},
 {"spacing": 0, "bounds": "flush", "vconcat": [
  {"width": 219, "height": 72,
   "layer": [
    {"data": {"name": "B"}, "mark": {"type": "rect"}, "encoding": {"x": {"field": "a", "type": "quantitative", "scale": {"domain": [0, 2], "nice": false, "zero": false}, "axis": null}, "x2": {"field": "z"}, "color": {"field": "k", "type": "nominal", "scale": {"domain": ["a","b","c"], "range": ["#e6e6e6","#f5f5f5","#ededed"]}, "legend": null}}},
    {"data": {"name": "D"}, "mark": {"type": "rule", "strokeDash": [3, 2], "color": "#b0b0b0", "strokeWidth": 0.8}, "encoding": {"x": {"field": "v", "type": "quantitative", "scale": {"domain": [0, 2], "nice": false, "zero": false}, "axis": null}}},
    {"data": {"name": "P"}, "transform": [{"filter": "datum.b === 'I'"}], "mark": {"type": "errorbar", "color": "#777", "thickness": 0.6, "ticks": {"size": 3, "clip": true}, "rule": {"clip": true}},
     "encoding": {"x": {"field": "p", "type": "quantitative", "scale": {"domain": [0, 2], "nice": false, "zero": false}, "axis": {"orient": "bottom", "labels": false, "title": null, "maxExtent": 0, "values": [0,0.1,0.2,0.3,0.4,0.5,0.6,0.7,0.8,0.9,1,1.1,1.2,1.3,1.4,1.5,1.6,1.7,1.8,1.9,2], "tickDash": {"condition": {"test": "abs(round(datum.value*10)) % 5 === 0", "value": []}, "value": [2, 10]}}},
      "y": {"field": "m", "type": "quantitative", "scale": {"domain": [-0.25, 0.25], "reverse": true, "nice": false, "zero": false}, "axis": {"orient": "left", "title": "ΔI [mag]", "titlePadding": 5, "values": [-0.2,-0.15,-0.1,-0.05,0,0.05,0.1,0.15,0.2], "labelExpr": "abs(round(datum.value*20)) % 2 === 0 ? format(datum.value, '~g') : ''", "tickDash": {"condition": {"test": "abs(round(datum.value*20)) % 2 === 0", "value": []}, "value": [2, 10]}}},
      "yError": {"field": "e"}}},
    {"data": {"name": "P"}, "transform": [{"filter": "datum.b === 'I'"}], "mark": {"type": "point", "filled": false, "size": 12, "color": "#333", "strokeWidth": 0.7, "clip": true},
     "encoding": {"x": {"field": "p", "type": "quantitative", "scale": {"domain": [0, 2], "nice": false, "zero": false}, "axis": {"orient": "top", "labels": false, "title": null, "maxExtent": 0, "values": [0,0.1,0.2,0.3,0.4,0.5,0.6,0.7,0.8,0.9,1,1.1,1.2,1.3,1.4,1.5,1.6,1.7,1.8,1.9,2], "tickDash": {"condition": {"test": "abs(round(datum.value*10)) % 5 === 0", "value": []}, "value": [2, 10]}}},
      "y": {"field": "m", "type": "quantitative", "scale": {"domain": [-0.25, 0.25], "reverse": true, "nice": false, "zero": false}, "axis": {"orient": "right", "labels": false, "title": null, "maxExtent": 0, "minExtent": 0, "values": [-0.2,-0.15,-0.1,-0.05,0,0.05,0.1,0.15,0.2], "tickDash": {"condition": {"test": "abs(round(datum.value*20)) % 2 === 0", "value": []}, "value": [2, 10]}}}}},
    {"data": {"name": "P"}, "transform": [{"filter": "datum.b === 'I'"}], "mark": {"type": "errorbar", "color": "#777", "thickness": 0.6, "ticks": {"size": 3, "clip": true}, "rule": {"clip": true}},
     "encoding": {"x": {"field": "q", "type": "quantitative", "scale": {"domain": [0, 2], "nice": false, "zero": false}, "axis": null},
      "y": {"field": "m", "type": "quantitative", "scale": {"domain": [-0.25, 0.25], "reverse": true, "nice": false, "zero": false}, "axis": null},
      "yError": {"field": "e"}}},
    {"data": {"name": "P"}, "transform": [{"filter": "datum.b === 'I'"}], "mark": {"type": "point", "filled": false, "size": 12, "color": "#333", "strokeWidth": 0.7, "clip": true},
     "encoding": {"x": {"field": "q", "type": "quantitative", "scale": {"domain": [0, 2], "nice": false, "zero": false}, "axis": null},
      "y": {"field": "m", "type": "quantitative", "scale": {"domain": [-0.25, 0.25], "reverse": true, "nice": false, "zero": false}, "axis": null}}}
   ],
   "resolve": {"axis": {"x": "independent", "y": "independent"}}},
  {"width": 219, "height": 72,
   "layer": [
    {"data": {"name": "B"}, "mark": {"type": "rect"}, "encoding": {"x": {"field": "a", "type": "quantitative", "scale": {"domain": [0, 2], "nice": false, "zero": false}, "axis": null}, "x2": {"field": "z"}, "color": {"field": "k", "type": "nominal", "scale": {"domain": ["a","b","c"], "range": ["#e6e6e6","#f5f5f5","#ededed"]}, "legend": null}}},
    {"data": {"name": "D"}, "mark": {"type": "rule", "strokeDash": [3, 2], "color": "#b0b0b0", "strokeWidth": 0.8}, "encoding": {"x": {"field": "v", "type": "quantitative", "scale": {"domain": [0, 2], "nice": false, "zero": false}, "axis": null}}},
    {"data": {"name": "P"}, "transform": [{"filter": "datum.b === 'R'"}], "mark": {"type": "errorbar", "color": "#777", "thickness": 0.6, "ticks": {"size": 3, "clip": true}, "rule": {"clip": true}},
     "encoding": {"x": {"field": "p", "type": "quantitative", "scale": {"domain": [0, 2], "nice": false, "zero": false}, "axis": {"orient": "bottom", "labels": false, "title": null, "maxExtent": 0, "values": [0,0.1,0.2,0.3,0.4,0.5,0.6,0.7,0.8,0.9,1,1.1,1.2,1.3,1.4,1.5,1.6,1.7,1.8,1.9,2], "tickDash": {"condition": {"test": "abs(round(datum.value*10)) % 5 === 0", "value": []}, "value": [2, 10]}}},
      "y": {"field": "m", "type": "quantitative", "scale": {"domain": [-0.25, 0.25], "reverse": true, "nice": false, "zero": false}, "axis": {"orient": "left", "title": "ΔR [mag]", "titlePadding": 5, "values": [-0.2,-0.15,-0.1,-0.05,0,0.05,0.1,0.15,0.2], "labelExpr": "abs(round(datum.value*20)) % 2 === 0 ? format(datum.value, '~g') : ''", "tickDash": {"condition": {"test": "abs(round(datum.value*20)) % 2 === 0", "value": []}, "value": [2, 10]}}},
      "yError": {"field": "e"}}},
    {"data": {"name": "P"}, "transform": [{"filter": "datum.b === 'R'"}], "mark": {"type": "point", "filled": false, "size": 12, "color": "#333", "strokeWidth": 0.7, "clip": true},
     "encoding": {"x": {"field": "p", "type": "quantitative", "scale": {"domain": [0, 2], "nice": false, "zero": false}, "axis": {"orient": "top", "labels": false, "title": null, "maxExtent": 0, "values": [0,0.1,0.2,0.3,0.4,0.5,0.6,0.7,0.8,0.9,1,1.1,1.2,1.3,1.4,1.5,1.6,1.7,1.8,1.9,2], "tickDash": {"condition": {"test": "abs(round(datum.value*10)) % 5 === 0", "value": []}, "value": [2, 10]}}},
      "y": {"field": "m", "type": "quantitative", "scale": {"domain": [-0.25, 0.25], "reverse": true, "nice": false, "zero": false}, "axis": {"orient": "right", "labels": false, "title": null, "maxExtent": 0, "minExtent": 0, "values": [-0.2,-0.15,-0.1,-0.05,0,0.05,0.1,0.15,0.2], "tickDash": {"condition": {"test": "abs(round(datum.value*20)) % 2 === 0", "value": []}, "value": [2, 10]}}}}},
    {"data": {"name": "P"}, "transform": [{"filter": "datum.b === 'R'"}], "mark": {"type": "errorbar", "color": "#777", "thickness": 0.6, "ticks": {"size": 3, "clip": true}, "rule": {"clip": true}},
     "encoding": {"x": {"field": "q", "type": "quantitative", "scale": {"domain": [0, 2], "nice": false, "zero": false}, "axis": null},
      "y": {"field": "m", "type": "quantitative", "scale": {"domain": [-0.25, 0.25], "reverse": true, "nice": false, "zero": false}, "axis": null},
      "yError": {"field": "e"}}},
    {"data": {"name": "P"}, "transform": [{"filter": "datum.b === 'R'"}], "mark": {"type": "point", "filled": false, "size": 12, "color": "#333", "strokeWidth": 0.7, "clip": true},
     "encoding": {"x": {"field": "q", "type": "quantitative", "scale": {"domain": [0, 2], "nice": false, "zero": false}, "axis": null},
      "y": {"field": "m", "type": "quantitative", "scale": {"domain": [-0.25, 0.25], "reverse": true, "nice": false, "zero": false}, "axis": null}}}
   ],
   "resolve": {"axis": {"x": "independent", "y": "independent"}}},
  {"width": 219, "height": 68,
   "layer": [
    {"data": {"name": "B"}, "mark": {"type": "rect"}, "encoding": {"x": {"field": "a", "type": "quantitative", "scale": {"domain": [0, 2], "nice": false, "zero": false}, "axis": null}, "x2": {"field": "z"}, "color": {"field": "k", "type": "nominal", "scale": {"domain": ["a","b","c"], "range": ["#e6e6e6","#f5f5f5","#ededed"]}, "legend": null}}},
    {"data": {"name": "D"}, "mark": {"type": "rule", "strokeDash": [3, 2], "color": "#b0b0b0", "strokeWidth": 0.8}, "encoding": {"x": {"field": "v", "type": "quantitative", "scale": {"domain": [0, 2], "nice": false, "zero": false}, "axis": null}}},
    {"data": {"name": "P"}, "transform": [{"filter": "datum.b === 'V'"}], "mark": {"type": "errorbar", "color": "#777", "thickness": 0.6, "ticks": {"size": 3, "clip": true}, "rule": {"clip": true}},
     "encoding": {"x": {"field": "p", "type": "quantitative", "scale": {"domain": [0, 2], "nice": false, "zero": false}, "axis": {"orient": "bottom", "title": "Phase", "titlePadding": 3, "values": [0,0.1,0.2,0.3,0.4,0.5,0.6,0.7,0.8,0.9,1,1.1,1.2,1.3,1.4,1.5,1.6,1.7,1.8,1.9,2], "labelExpr": "abs(round(datum.value*10)) % 5 === 0 ? format(datum.value, '~g') : ''", "tickDash": {"condition": {"test": "abs(round(datum.value*10)) % 5 === 0", "value": []}, "value": [2, 10]}}},
      "y": {"field": "m", "type": "quantitative", "scale": {"domain": [-0.25, 0.25], "reverse": true, "nice": false, "zero": false}, "axis": {"orient": "left", "title": "ΔV [mag]", "titlePadding": 5, "values": [-0.2,-0.15,-0.1,-0.05,0,0.05,0.1,0.15,0.2], "labelExpr": "abs(round(datum.value*20)) % 2 === 0 ? format(datum.value, '~g') : ''", "tickDash": {"condition": {"test": "abs(round(datum.value*20)) % 2 === 0", "value": []}, "value": [2, 10]}}},
      "yError": {"field": "e"}}},
    {"data": {"name": "P"}, "transform": [{"filter": "datum.b === 'V'"}], "mark": {"type": "point", "filled": false, "size": 12, "color": "#333", "strokeWidth": 0.7, "clip": true},
     "encoding": {"x": {"field": "p", "type": "quantitative", "scale": {"domain": [0, 2], "nice": false, "zero": false}, "axis": {"orient": "top", "labels": false, "title": null, "maxExtent": 0, "values": [0,0.1,0.2,0.3,0.4,0.5,0.6,0.7,0.8,0.9,1,1.1,1.2,1.3,1.4,1.5,1.6,1.7,1.8,1.9,2], "tickDash": {"condition": {"test": "abs(round(datum.value*10)) % 5 === 0", "value": []}, "value": [2, 10]}}},
      "y": {"field": "m", "type": "quantitative", "scale": {"domain": [-0.25, 0.25], "reverse": true, "nice": false, "zero": false}, "axis": {"orient": "right", "labels": false, "title": null, "maxExtent": 0, "minExtent": 0, "values": [-0.2,-0.15,-0.1,-0.05,0,0.05,0.1,0.15,0.2], "tickDash": {"condition": {"test": "abs(round(datum.value*20)) % 2 === 0", "value": []}, "value": [2, 10]}}}}},
    {"data": {"name": "P"}, "transform": [{"filter": "datum.b === 'V'"}], "mark": {"type": "errorbar", "color": "#777", "thickness": 0.6, "ticks": {"size": 3, "clip": true}, "rule": {"clip": true}},
     "encoding": {"x": {"field": "q", "type": "quantitative", "scale": {"domain": [0, 2], "nice": false, "zero": false}, "axis": null},
      "y": {"field": "m", "type": "quantitative", "scale": {"domain": [-0.25, 0.25], "reverse": true, "nice": false, "zero": false}, "axis": null},
      "yError": {"field": "e"}}},
    {"data": {"name": "P"}, "transform": [{"filter": "datum.b === 'V'"}], "mark": {"type": "point", "filled": false, "size": 12, "color": "#333", "strokeWidth": 0.7, "clip": true},
     "encoding": {"x": {"field": "q", "type": "quantitative", "scale": {"domain": [0, 2], "nice": false, "zero": false}, "axis": null},
      "y": {"field": "m", "type": "quantitative", "scale": {"domain": [-0.25, 0.25], "reverse": true, "nice": false, "zero": false}, "axis": null}}}
   ],
   "resolve": {"axis": {"x": "independent", "y": "independent"}}}
 ]}
]
}
